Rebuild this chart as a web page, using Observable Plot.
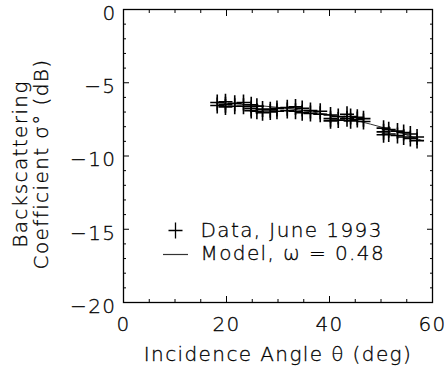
<!DOCTYPE html>
<html><head><meta charset="utf-8">
<script src="https://cdn.jsdelivr.net/npm/d3@7"></script>
<script src="https://cdn.jsdelivr.net/npm/@observablehq/plot@0.6"></script>
<style>
body{margin:0;background:#fff}
#chart svg{font-family:"DejaVu Sans",sans-serif;font-weight:200;}
#chart svg text{letter-spacing:1.4px;stroke:#000;stroke-width:0.3px;}
</style></head><body><div id="chart"></div>
<script>
// Data, June 1993: incidence angle (deg) and backscattering coefficient (dB)
const dataAngles = [18.2,18.2,19.8,19.8,19.8,21.6,21.6,23.3,23.3,24.8,24.8,24.8,25.9,25.9,27.0,27.0,28.5,28.5,29.8,29.8,31.8,31.8,33.4,33.4,34.7,34.7,36.3,36.3,38.2,38.2,40.2,40.2,40.2,41.7,41.7,43.4,43.4,44.1,44.1,45.4,45.4,46.6,46.6,50.5,50.5,50.5,51.5,51.5,53.2,53.2,54.4,54.4,55.7,55.7,57.0,57.0];
const dataSigma  = [-6.35,-6.55,-6.3,-6.5,-6.65,-6.4,-6.6,-6.35,-6.6,-6.5,-6.75,-6.9,-6.6,-6.95,-6.8,-7.05,-6.85,-7.0,-6.75,-6.95,-6.7,-6.9,-6.65,-6.95,-6.75,-7.05,-6.9,-7.1,-6.95,-7.15,-7.2,-7.45,-7.6,-7.3,-7.55,-7.15,-7.45,-7.3,-7.6,-7.35,-7.5,-7.45,-7.65,-8.1,-8.35,-8.55,-8.2,-8.5,-8.3,-8.6,-8.4,-8.7,-8.5,-8.8,-8.7,-8.95];
// Model, omega = 0.48
const modelAngles = [18,22,26,30,34,38,42,46,50,54,58];
const modelSigma  = [-6.38,-6.45,-6.55,-6.68,-6.85,-7.07,-7.33,-7.65,-8.02,-8.45,-8.95];
const xMajorTicks = [0,20,40,60];
const xMinorTicks = [5,10,15,25,30,35,45,50,55];
const yMajorTicks = [0,-5,-10,-15,-20];
const yMinorTicks = [-1,-2,-3,-4,-6,-7,-8,-9,-11,-12,-13,-14,-16,-17,-18,-19];
const legendLabels = ["Data, June 1993","Model, \u03c9 = 0.48"];
const xLabel = "Incidence Angle \u03b8 (deg)";
const yLabelLines = ["Backscattering","Coefficient \u03c3\u00b0 (dB)"];

const plusSymbol = {draw(ctx){ctx.moveTo(-7,0);ctx.lineTo(7,0);ctx.moveTo(0,-8);ctx.lineTo(0,8);}};
const dashSymbol = {draw(ctx){ctx.moveTo(-12.5,0);ctx.lineTo(12.5,0);}};
const idx = dataAngles.map((_, i) => i);
const midx = modelAngles.map((_, i) => i);
const fs = 20;

function tickAxes(dim, ticks, size) {
  const none = () => "";
  if (dim === "x") return [
    Plot.axisX(ticks, {anchor:"bottom", tickSize:size, dy:-size, tickFormat:none, label:null, stroke:"black"}),
    Plot.axisX(ticks, {anchor:"top", tickSize:size, dy:size, tickFormat:none, label:null, stroke:"black"})
  ];
  return [
    Plot.axisY(ticks, {anchor:"left", tickSize:size, dx:size, tickFormat:none, label:null, stroke:"black"}),
    Plot.axisY(ticks, {anchor:"right", tickSize:size, dx:-size, tickFormat:none, label:null, stroke:"black"})
  ];
}

const chart = Plot.plot({
  width: 447, height: 370,
  marginLeft: 123, marginRight: 15, marginTop: 9, marginBottom: 68,
  style: {fontSize: fs + "px", fontFamily: "'DejaVu Sans', sans-serif", background: "#fff", color: "black"},
  x: {domain: [0, 60]},
  y: {domain: [-20, 0]},
  marks: [
    Plot.axisX(xMajorTicks, {anchor:"bottom", tickSize:0, tickPadding:14, label:null, fill:"black"}),
    Plot.axisY(yMajorTicks, {anchor:"left", tickSize:0, tickPadding:7, dy:4, label:null, fill:"black"}),
    ...tickAxes("x", xMajorTicks, 6),
    ...tickAxes("x", xMinorTicks, 3),
    ...tickAxes("y", yMajorTicks, 6),
    ...tickAxes("y", yMinorTicks, 3),
    Plot.line(midx, {x: i => modelAngles[i], y: i => modelSigma[i], curve: "natural", stroke: "#333", strokeWidth: 1}),
    Plot.dot(idx, {x: i => dataAngles[i], y: i => dataSigma[i], symbol: plusSymbol, fill: "none", stroke: "black", strokeWidth: 1.6}),
    Plot.dot([0], {frameAnchor: "top-left", dx: 52, dy: 221, symbol: plusSymbol, fill: "none", stroke: "black", strokeWidth: 1.3}),
    Plot.dot([0], {frameAnchor: "top-left", dx: 52, dy: 245, symbol: dashSymbol, fill: "none", stroke: "#333", strokeWidth: 1.2}),
    Plot.text([legendLabels[0]], {text: d => d, frameAnchor: "top-left", dx: 77, dy: 221, textAnchor: "start", lineAnchor: "middle", fontSize: fs}),
    Plot.text([legendLabels[1]], {text: d => d, frameAnchor: "top-left", dx: 77, dy: 244, textAnchor: "start", lineAnchor: "middle", fontSize: fs}),
    Plot.text([xLabel], {text: d => d, frameAnchor: "bottom", dy: 52, textAnchor: "middle", lineAnchor: "middle", fontSize: fs}),
    Plot.text([yLabelLines[0]], {text: d => d, frameAnchor: "left", rotate: -90, dx: -103, dy: 8, textAnchor: "middle", lineAnchor: "middle", fontSize: fs}),
    Plot.text([yLabelLines[1]], {text: d => d, frameAnchor: "left", rotate: -90, dx: -82, dy: 8, textAnchor: "middle", lineAnchor: "middle", fontSize: fs}),
    Plot.frame({stroke: "black", strokeWidth: 1.3})
  ]
});
document.getElementById("chart").appendChild(chart);
</script></body></html>
